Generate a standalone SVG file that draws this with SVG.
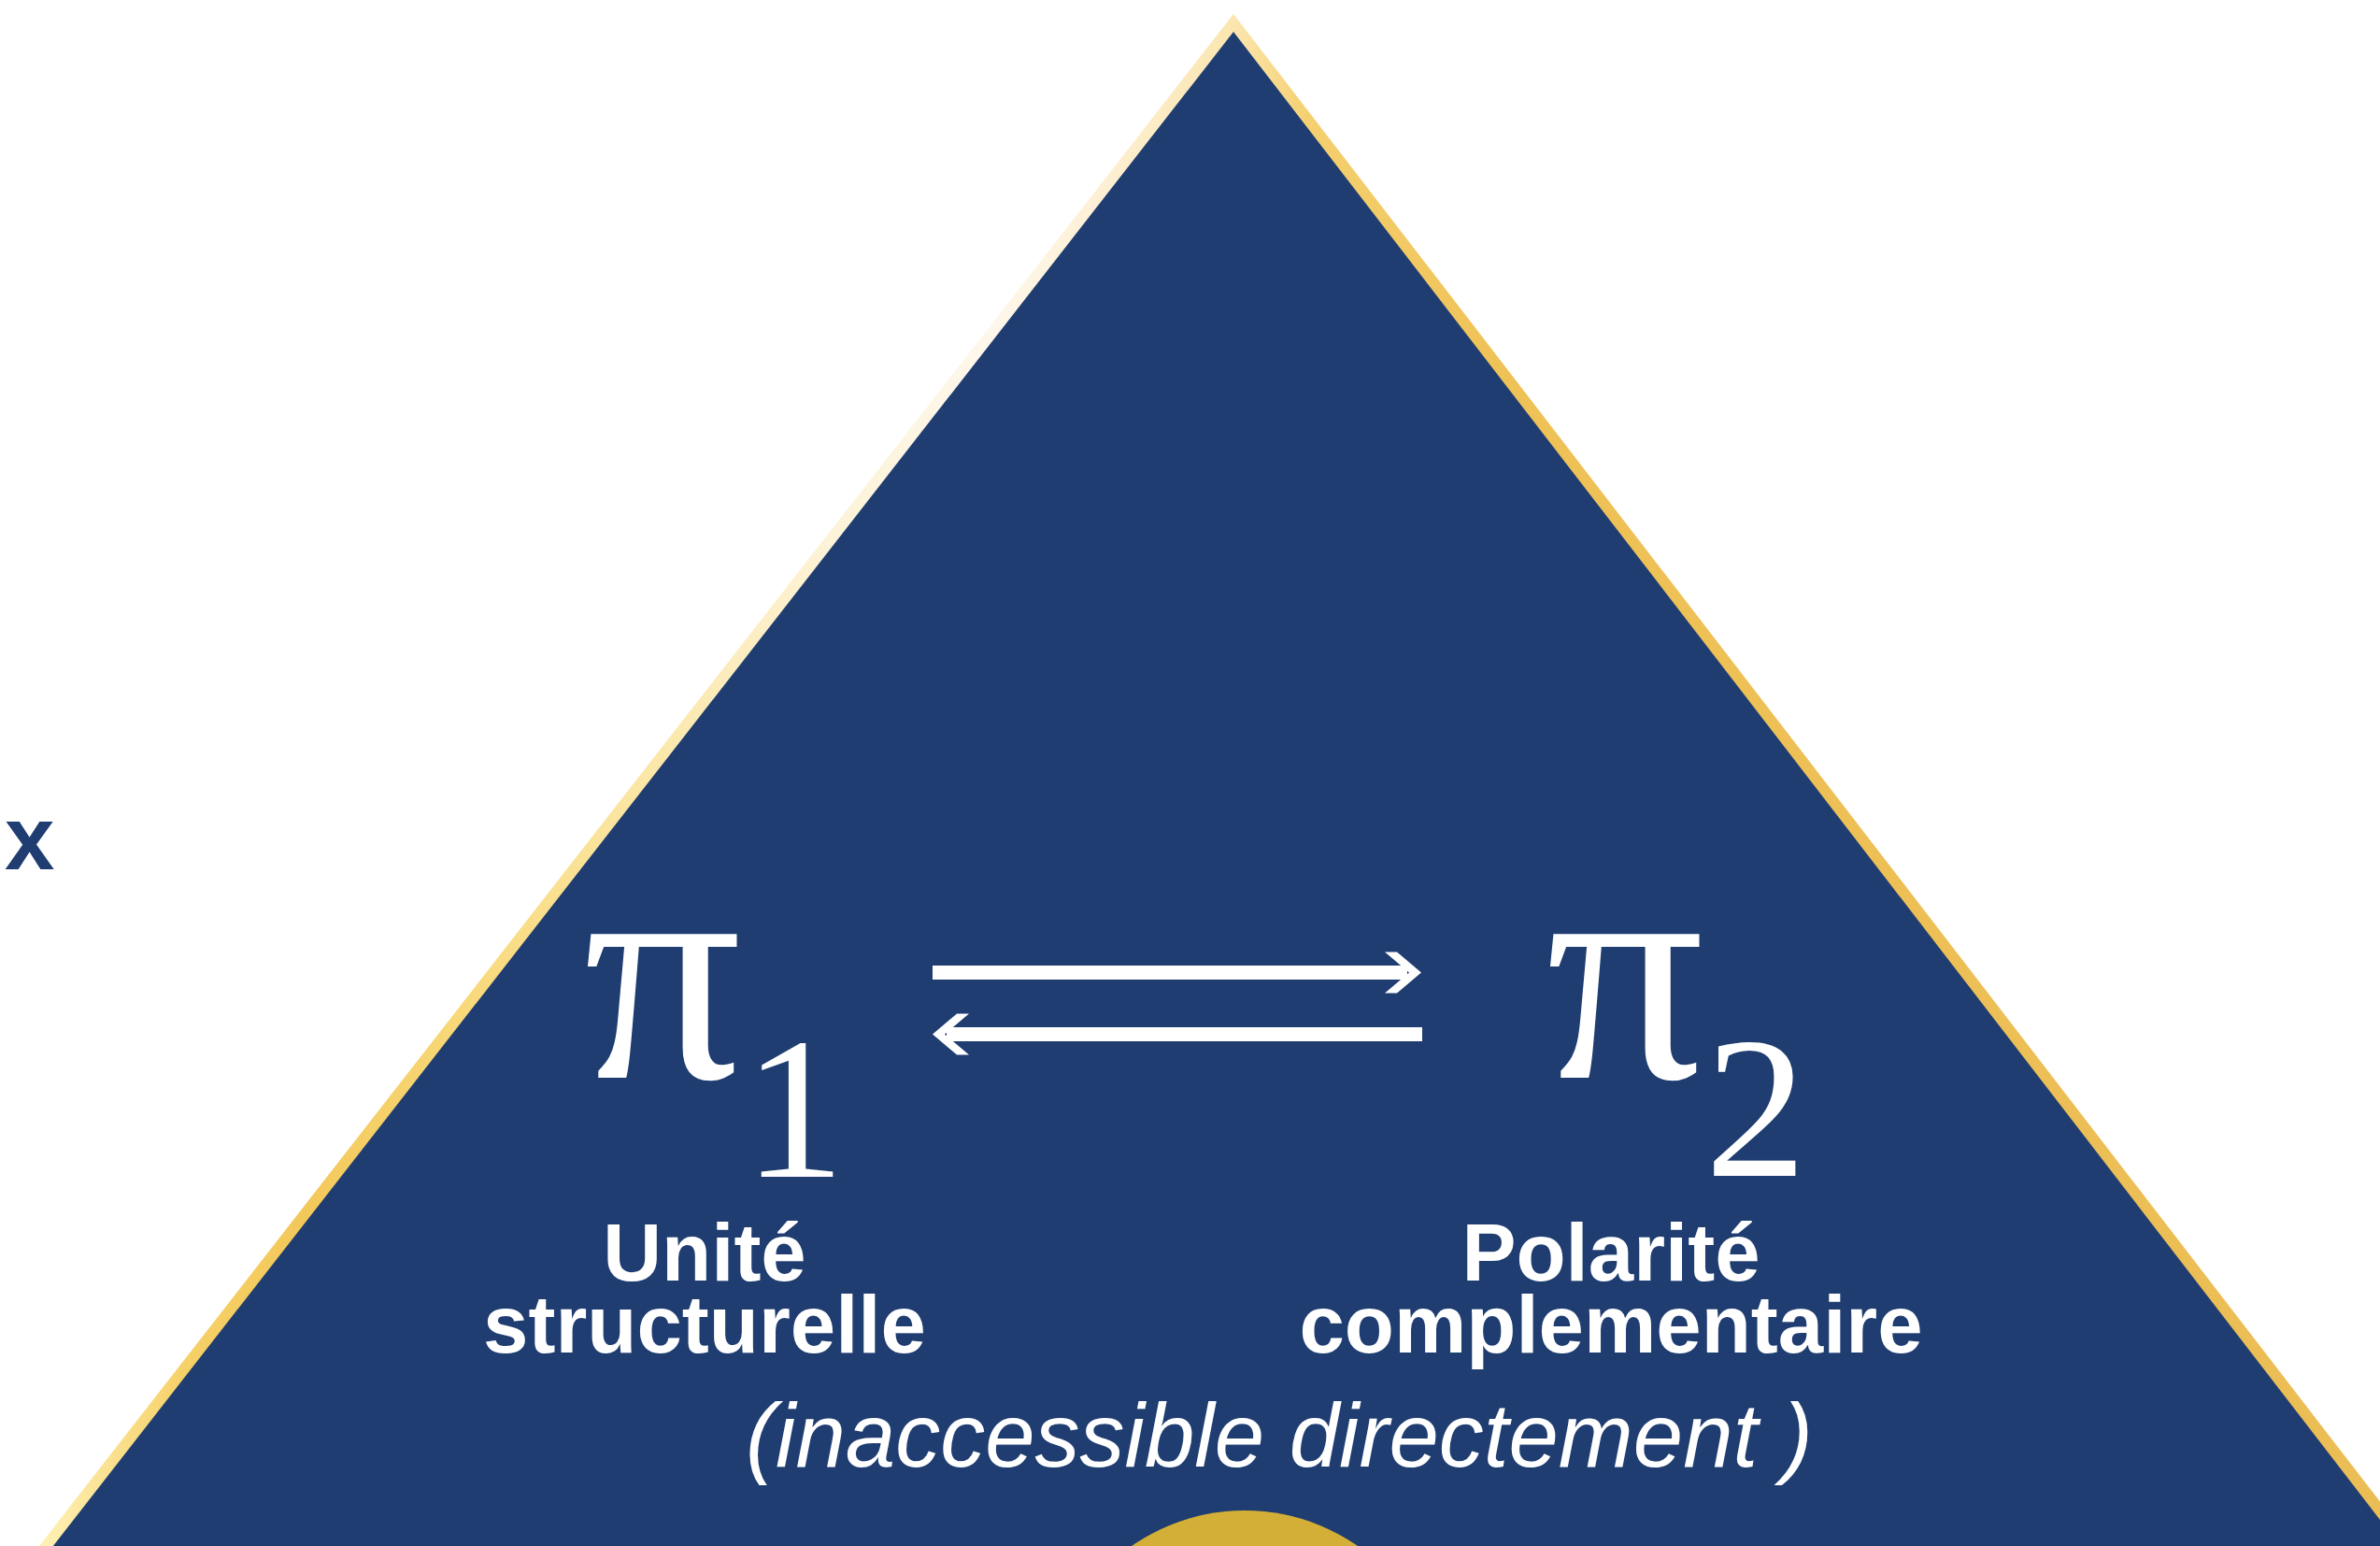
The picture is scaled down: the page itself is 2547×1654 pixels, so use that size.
<svg xmlns="http://www.w3.org/2000/svg" width="2547" height="1654" viewBox="0 0 2547 1654">
  <style>
    .sym { font-family: "Liberation Serif", "Times New Roman", serif; fill: #FFFFFF; text-anchor: middle; }
    .pi { font-size: 335px; }
    .sub { font-size: 217px; }
    .label { font-family: "Liberation Sans", Arial, sans-serif; font-weight: bold; font-size: 87px; fill: #FFFFFF; text-anchor: middle; }
    .caption { font-family: "Liberation Sans", Arial, sans-serif; font-style: italic; font-size: 96px; fill: #FFFFFF; text-anchor: middle; }
    .arrow { stroke: #FFFFFF; stroke-width: 15; fill: none; }
  </style>
  <defs>
    <linearGradient id="border" gradientUnits="userSpaceOnUse" x1="0" y1="0" x2="2547" y2="0">
      <stop offset="0.019" stop-color="#FEF0B4"/>
      <stop offset="0.077" stop-color="#F6D168"/>
      <stop offset="0.128" stop-color="#F3C85A"/>
      <stop offset="0.192" stop-color="#F8D878"/>
      <stop offset="0.267" stop-color="#FBE6A4"/>
      <stop offset="0.349" stop-color="#FDF3D8"/>
      <stop offset="0.415" stop-color="#FEF7EC"/>
      <stop offset="0.46" stop-color="#FDF0D6"/>
      <stop offset="0.518" stop-color="#FBE6B0"/>
      <stop offset="0.55" stop-color="#F5D070"/>
      <stop offset="0.63" stop-color="#EFC257"/>
      <stop offset="1" stop-color="#EBBD55"/>
    </linearGradient>
    <marker id="chevron" markerUnits="userSpaceOnUse" markerWidth="40" markerHeight="44" refX="24" refY="22" orient="auto" overflow="visible">
      <polygon points="0,0 13,0 39,22 13,44 0,44 26,22" fill="#FFFFFF"/>
    </marker>
  </defs>

  <rect x="0" y="0" width="2547" height="1654" fill="#FFFFFF"/>

  <g id="triangle">
    <polygon points="1320,15 6,1700 2619,1700" fill="url(#border)"/>
    <polygon points="1320,34 21,1700 2604,1700" fill="#1F3D71"/>
  </g>

  <g id="sun">
    <circle cx="1332" cy="1828" r="212" fill="#D4AF37"/>
  </g>

  <g id="side-x">
    <text x="5" y="930" font-family="Liberation Sans, Arial, sans-serif" font-weight="bold" font-size="96" fill="#1F3D71">x</text>
  </g>

  <g id="node-pi1">
    <text class="sym pi" x="709" y="1153">π</text>
    <text class="sym sub" x="850" y="1259">1</text>
    <text class="label" x="754" y="1370">Unité</text>
    <text class="label" x="754" y="1447">structurelle</text>
  </g>

  <g id="node-pi2">
    <text class="sym pi" x="1739" y="1153">π</text>
    <text class="sym sub" x="1879" y="1258">2</text>
    <text class="label" x="1724" y="1370">Polarité</text>
    <text class="label" x="1724" y="1447">complementaire</text>
  </g>

  <g id="connectors">
    <line class="arrow" x1="998" y1="1040.5" x2="1506" y2="1040.5" marker-end="url(#chevron)"/>
    <line class="arrow" x1="1522" y1="1106.5" x2="1013" y2="1106.5" marker-end="url(#chevron)"/>
  </g>

  <g id="caption">
    <text class="caption" x="1369" y="1569">(inaccessible directement )</text>
  </g>
</svg>
